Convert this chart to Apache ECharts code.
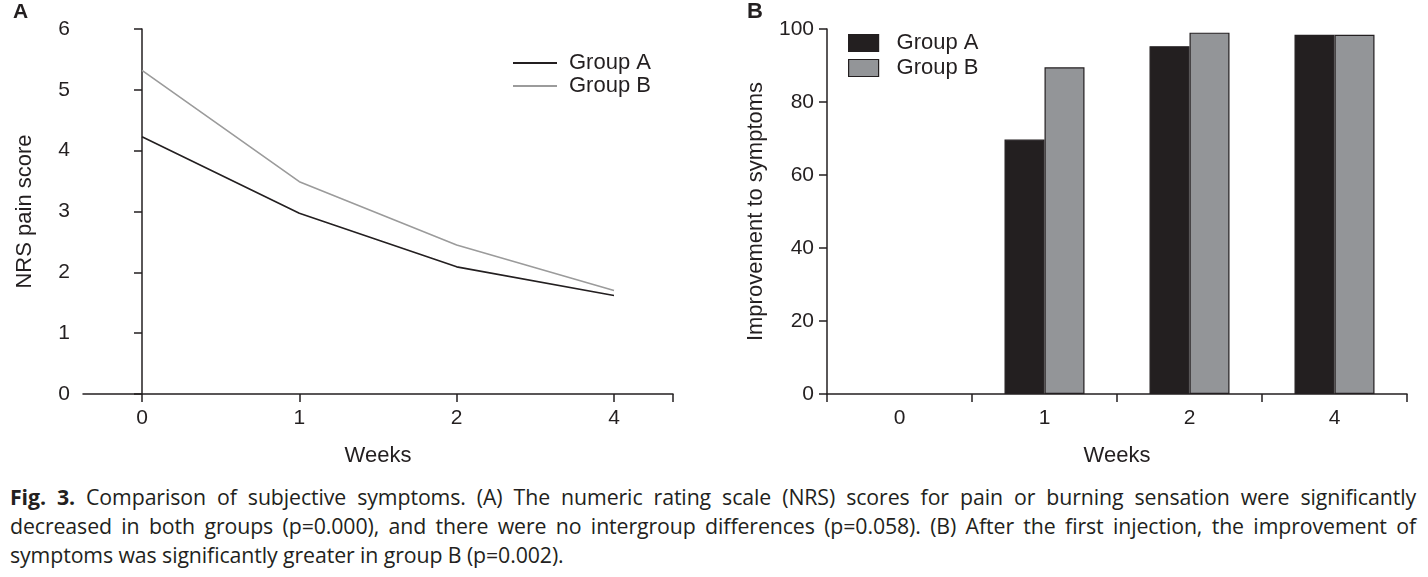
<!DOCTYPE html>
<html>
<head>
<meta charset="utf-8">
<script src="https://cdn.jsdelivr.net/npm/echarts@6/dist/echarts.min.js"></script>
<style>
  html, body { margin: 0; padding: 0; background: #fff; }
  #chart { position: absolute; left: 0; top: 0; width: 1428px; height: 472px; }
  #caption { position: absolute; left: 10px; top: 482px; width: 1406px; font-family: 'Open Sans', sans-serif; font-size: 21.3px; line-height: 29px; color: #231f20; letter-spacing: -0.1px; }
  #caption div { text-align: justify; text-align-last: justify; white-space: nowrap; }
  #caption div.last { text-align-last: left; }
  #caption b { font-weight: 700; }
</style>
</head>
<body>
<div id="chart"></div>
<div id="caption">
  <div><b>Fig. 3.</b> Comparison of subjective symptoms. (A) The numeric rating scale (NRS) scores for pain or burning sensation were significantly</div>
  <div>decreased in both groups (p=0.000), and there were no intergroup differences (p=0.058). (B) After the first injection, the improvement of</div>
  <div class="last">symptoms was significantly greater in group B (p=0.002).</div>
</div>
<script>
// ---- data ----
const weeks = ['0', '1', '2', '4'];
const nrsGroupA = [4.23, 2.97, 2.09, 1.62];
const nrsGroupB = [5.32, 3.49, 2.45, 1.70];
const improveGroupA = [0, 69.7, 95.3, 98.4];
const improveGroupB = [0, 89.5, 99.0, 98.4];
const nrsTicks = [0, 1, 2, 3, 4, 5, 6];
const improveTicks = [0, 20, 40, 60, 80, 100];

const DARK = '#231f20';
const GRAY_LINE = '#9b9b9b';
const GRAY_BAR = '#939598';
const FONT = 'Liberation Sans';

const chart = echarts.init(document.getElementById('chart'), null, { renderer: 'canvas' });

const idx = weeks.map((_, i) => i);
// a zero value has no visible bar in the figure
const barData = arr => arr.map(v => (v === 0 ? '-' : v));

const axisCommon = {
  axisLine: { show: true, lineStyle: { color: DARK, width: 1.5 } },
  axisTick: { show: true, length: 8, inside: false, lineStyle: { color: DARK, width: 1.5 } },
  axisLabel: { color: DARK, fontFamily: FONT, fontSize: 21, margin: 13 },
  splitLine: { show: false },
  nameTextStyle: { color: DARK, fontFamily: FONT, fontSize: 22 }
};

const option = {
  animation: false,
  backgroundColor: '#fff',
  textStyle: { fontFamily: FONT, color: DARK },
  title: [
    { text: 'A', left: 13, top: 2, padding: 0, textStyle: { fontFamily: FONT, fontSize: 21, fontWeight: 'bold', color: DARK } },
    { text: 'B', left: 747, top: 1, padding: 0, textStyle: { fontFamily: FONT, fontSize: 22, fontWeight: 'bold', color: DARK } }
  ],
  grid: [
    { left: 83, top: 29, width: 590, height: 366 },
    { left: 827, top: 29, width: 580, height: 366 }
  ],
  legend: [
    {
      orient: 'vertical', left: 513, top: 52, itemWidth: 44, itemHeight: 2, itemGap: 1,
      padding: 0,
      textStyle: { fontFamily: FONT, fontSize: 22, color: DARK, padding: [0, 0, 0, 7] },
      data: [
        { name: 'Group A', icon: 'rect', itemStyle: { color: DARK, borderWidth: 0 } },
        { name: 'Group B', icon: 'rect', itemStyle: { color: GRAY_LINE, borderWidth: 0 } }
      ],
      selectedMode: false
    },
    {
      orient: 'vertical', left: 848, top: 32, itemWidth: 30, itemHeight: 17, itemGap: 3,
      padding: 0,
      textStyle: { fontFamily: FONT, fontSize: 22, color: DARK, padding: [0, 0, 0, 13] },
      data: [
        { name: 'Group A', icon: 'rect', itemStyle: { color: DARK, borderColor: DARK, borderWidth: 1.2 } },
        { name: 'Group B', icon: 'rect', itemStyle: { color: GRAY_BAR, borderColor: DARK, borderWidth: 1.2 } }
      ],
      selectedMode: false
    }
  ],
  xAxis: [
    Object.assign({}, axisCommon, {
      gridIndex: 0, type: 'value', min: -0.375, max: 3.375,
      name: 'Weeks', nameLocation: 'middle', nameGap: 51,
      axisTick: Object.assign({}, axisCommon.axisTick, { customValues: idx.concat([3.375]) }),
      axisLabel: Object.assign({}, axisCommon.axisLabel, {
        customValues: idx, margin: 14,
        formatter: v => weeks[Math.round(v)]
      })
    }),
    Object.assign({}, axisCommon, {
      gridIndex: 1, type: 'category', data: weeks,
      name: 'Weeks', nameLocation: 'middle', nameGap: 51,
      axisLabel: Object.assign({}, axisCommon.axisLabel, { margin: 14 })
    })
  ],
  yAxis: [
    Object.assign({}, axisCommon, {
      gridIndex: 0, type: 'value', min: nrsTicks[0], max: nrsTicks[nrsTicks.length - 1], interval: 1,
      name: 'NRS pain score', nameLocation: 'middle', nameGap: 47
    }),
    Object.assign({}, axisCommon, {
      gridIndex: 1, type: 'value', min: improveTicks[0], max: improveTicks[improveTicks.length - 1], interval: 20,
      name: 'Improvement to symptoms', nameLocation: 'middle', nameGap: 60
    })
  ],
  series: [
    {
      name: 'Group A', type: 'line', xAxisIndex: 0, yAxisIndex: 0,
      data: nrsGroupA.map((v, i) => [i, v]),
      symbol: 'none', lineStyle: { color: DARK, width: 1.6 }, itemStyle: { color: DARK }
    },
    {
      name: 'Group B', type: 'line', xAxisIndex: 0, yAxisIndex: 0,
      data: nrsGroupB.map((v, i) => [i, v]),
      symbol: 'none', lineStyle: { color: GRAY_LINE, width: 1.6 }, itemStyle: { color: GRAY_LINE }
    },
    {
      name: 'Group A', type: 'bar', xAxisIndex: 1, yAxisIndex: 1,
      data: barData(improveGroupA), barWidth: 40, barGap: '0%',
      itemStyle: { color: DARK, borderColor: DARK, borderWidth: 1.2 }
    },
    {
      name: 'Group B', type: 'bar', xAxisIndex: 1, yAxisIndex: 1,
      data: barData(improveGroupB), barWidth: 40, barGap: '0%',
      itemStyle: { color: GRAY_BAR, borderColor: DARK, borderWidth: 1.2 }
    }
  ]
};
chart.setOption(option);
</script>
</body>
</html>
